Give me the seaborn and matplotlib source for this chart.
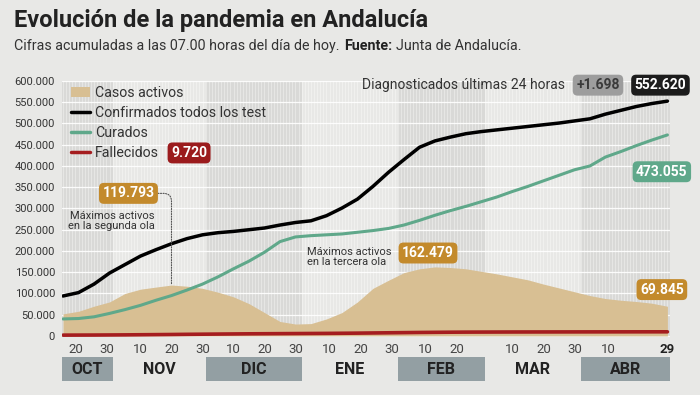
import matplotlib
matplotlib.use("Agg")
import matplotlib.pyplot as plt
import matplotlib.dates as mdates
import matplotlib.transforms as mtransforms
from matplotlib.patches import Patch, Rectangle
from matplotlib.lines import Line2D
from matplotlib.ticker import FuncFormatter
import seaborn as sns
import numpy as np
import pandas as pd

# datos, cada 5 dias desde el 16 de octubre
fechas = pd.date_range("2020-10-16", "2021-04-29", freq="5D")
confirmados = [94000, 102000, 122000, 148000, 168000, 188000, 203000, 217000,
               229000, 238000, 243000, 246000, 250000, 254000, 261000, 267000,
               271000, 283000, 301000, 322000, 352000, 385000, 415000, 444000,
               459000, 468000, 476000, 481000, 485000, 489000, 493000, 497000,
               501000, 506000, 511000, 522000, 531000, 540000, 547000, 552620]
curados = [40000, 41000, 45000, 53000, 62000, 72000, 84000, 95000,
           108000, 122000, 139000, 158000, 176000, 197000, 222000, 233000,
           236000, 238000, 240000, 244000, 248000, 253000, 261000, 272000,
           284000, 295000, 305000, 316000, 327000, 340000, 352000, 365000,
           378000, 391000, 400000, 421000, 434000, 448000, 461000, 473055]
activos = [52000, 58000, 70000, 80000, 100000, 110000, 115000, 119793,
           117000, 112000, 103000, 92000, 76000, 55000, 34000, 28000,
           29000, 40000, 55000, 80000, 112000, 131000, 149000, 158000,
           162479, 161000, 158000, 152000, 146000, 139000, 132000, 122000,
           113000, 104000, 95000, 88000, 84000, 81000, 77000, 69845]
fallecidos = [1900, 2000, 2100, 2300, 2500, 2800, 3100, 3400,
              3800, 4100, 4400, 4700, 5000, 5200, 5400, 5600,
              5800, 6000, 6300, 6600, 7000, 7400, 7800, 8200,
              8500, 8800, 9000, 9100, 9200, 9300, 9350, 9400,
              9450, 9500, 9550, 9600, 9630, 9670, 9700, 9720]
nuevos_24h = 1698

meses = ["OCT", "NOV", "DIC", "ENE", "FEB", "MAR", "ABR"]
inicio_meses = ["2020-10-16", "2020-11-01", "2020-12-01", "2021-01-01",
                "2021-02-01", "2021-03-01", "2021-04-01", "2021-04-30"]
meses_con_caja = ["OCT", "DIC", "FEB", "ABR"]
dias_ticks = ["2020-10-20", "2020-10-30", "2020-11-10", "2020-11-20", "2020-11-30",
              "2020-12-10", "2020-12-20", "2020-12-30", "2021-01-10", "2021-01-20",
              "2021-01-30", "2021-02-10", "2021-02-20", "2021-03-10", "2021-03-20",
              "2021-03-30", "2021-04-10", "2021-04-29"]
etiquetas_ticks = ["20", "30", "10", "20", "30", "10", "20", "30", "10", "20",
                   "30", "10", "20", "10", "20", "30", "10", "29"]

BG = "#e8e8e6"
SHADE = "#d9d9d7"
TAN = "#d8bf93"
GREEN = "#5fa88a"
RED = "#a51d1f"
ORANGE = "#c38a2c"
BOX = "#939fa3"
TXT = "#333333"

sns.set_style("white")
plt.rcParams["font.family"] = ["Roboto", "DejaVu Sans"]


def miles(v):
    return f"{int(v):,}".replace(",", ".")


fig = plt.figure(figsize=(7, 3.95), dpi=100, facecolor=BG)
ax = fig.add_axes([62 / 700, 58 / 395, 608 / 700, 256 / 395])
ax.set_facecolor(BG)
for s in ax.spines.values():
    s.set_visible(False)

fin = "2021-04-29"
x0 = fechas[0] - pd.Timedelta(hours=8)
x1 = pd.Timestamp(fin) + pd.Timedelta(hours=20)
ax.set_xlim(x0, x1)
ax.set_ylim(-2500, 600000)

# fondo: meses alternos sombreados y lineas diarias
lims = [pd.Timestamp(d) for d in inicio_meses]
lims[0] = x0
lims[-1] = x1
for mes, a, b in zip(meses, lims[:-1], lims[1:]):
    if mes in meses_con_caja:
        ax.axvspan(a, b, color=SHADE, lw=0, zorder=0)
for d in pd.date_range(fechas[0], fin, freq="D"):
    ax.axvline(d, color="white", lw=0.5, alpha=0.5, zorder=0.5)
ax.set_yticks(np.arange(0, 600001, 50000))
ax.yaxis.grid(True, color="white", lw=0.9, alpha=0.9)
ax.set_axisbelow(True)

ax.fill_between(fechas, activos, color=TAN, lw=0, zorder=2)
sns.lineplot(x=fechas, y=curados, ax=ax, color=GREEN, lw=2.2, zorder=3)
sns.lineplot(x=fechas, y=confirmados, ax=ax, color="black", lw=2.5, zorder=3)
sns.lineplot(x=fechas, y=fallecidos, ax=ax, color=RED, lw=2.6, zorder=4)
ax.set_xlabel("")
ax.set_ylabel("")

ax.yaxis.set_major_formatter(FuncFormatter(lambda v, p: miles(v)))
ax.tick_params(axis="y", length=0, pad=5, labelsize=8, labelcolor=TXT)
ax.set_xticks([pd.Timestamp(d) for d in dias_ticks])
ax.set_xticklabels(etiquetas_ticks)
ax.tick_params(axis="x", length=0, pad=4, labelsize=9.5, labelcolor="#444444")
ax.get_xticklabels()[-1].set_fontweight("bold")
ax.get_xticklabels()[-1].set_color("#222222")

# fila de meses
trans = mtransforms.blended_transform_factory(ax.transData, ax.transAxes)
for mes, a, b in zip(meses, lims[:-1], lims[1:]):
    a_n, b_n = mdates.date2num(a), mdates.date2num(b)
    if mes in meses_con_caja:
        ax.add_patch(Rectangle((a_n, -0.172), b_n - a_n, 0.094, transform=trans,
                               color=BOX, lw=0, clip_on=False))
    ax.text((a_n + b_n) / 2, -0.125, mes, transform=trans, ha="center", va="center",
            fontsize=11.5, fontweight="bold", color="#222222")

# leyenda
handles = [Patch(fc=TAN, ec="none"),
           Line2D([], [], color="black", lw=2.5),
           Line2D([], [], color=GREEN, lw=2.5),
           Line2D([], [], color=RED, lw=2.5)]
labels = ["Casos activos", "Confirmados todos los test", "Curados", "Fallecidos"]
ax.legend(handles, labels, loc="upper left", bbox_to_anchor=(0.0, 1.015),
          frameon=False, fontsize=10.2, handlelength=1.35, handletextpad=0.4,
          labelspacing=0.43, borderaxespad=0.2, labelcolor=TXT)


def badge(texto, xy, off, fc, tc="white", **kw):
    return ax.annotate(texto, xy=xy, xytext=off, textcoords="offset points",
                       ha="center", va="center", fontsize=10, fontweight="bold",
                       color=tc, annotation_clip=False, zorder=6,
                       bbox=dict(boxstyle="round,pad=0.25,rounding_size=0.35",
                                 fc=fc, ec="none"), **kw)


ax.text(0.209, 0.719, miles(fallecidos[-1]), transform=ax.transAxes, ha="center",
        va="center", fontsize=10, fontweight="bold", color="white", zorder=6,
        bbox=dict(boxstyle="round,pad=0.25,rounding_size=0.35", fc="#9b1b1d", ec="none"))

fin_conf = (fechas[-1], confirmados[-1])
badge(miles(confirmados[-1]), fin_conf, (-5, 11.5), "#1c1c1c")
badge("+" + miles(nuevos_24h), fin_conf, (-50, 11.5), "#9d9d9d", tc="#3a3a3a")
ax.annotate("Diagnosticados últimas 24 horas", xy=fin_conf, xytext=(-74, 11.5),
            textcoords="offset points", ha="right", va="center", fontsize=10,
            color=TXT, annotation_clip=False)
badge(miles(curados[-1]), (fechas[-1], curados[-1]), (-4, -26.5), GREEN)
badge(miles(activos[-1]), (fechas[-1], activos[-1]), (-4, 12), ORANGE)

# maximos de las olas
i2 = int(np.argmax(activos[:20]))
i3 = 20 + int(np.argmax(activos[20:]))
pico2 = (fechas[i2], activos[i2])
pico3 = (fechas[i3], activos[i3])
badge(miles(activos[i2]), pico2, (-31, 66), ORANGE,
      arrowprops=dict(arrowstyle="-", ls=(0, (1, 1.3)), color="#555555", lw=0.8,
                      connectionstyle="angle,angleA=0,angleB=90,rad=8",
                      shrinkA=0, shrinkB=0))
ax.annotate("Máximos activos\nen la segunda ola", xy=pico2, xytext=(-12, 46),
            textcoords="offset points", ha="right", va="center", fontsize=8,
            linespacing=1.05, color=TXT, annotation_clip=False)
badge(miles(activos[i3]), pico3, (-5, 10), ORANGE)
ax.annotate("Máximos activos\nen la tercera ola", xy=pico3, xytext=(-92, 7),
            textcoords="offset points", ha="left", va="center", fontsize=8,
            linespacing=1.05, color=TXT, annotation_clip=False)

# titulo
fig.text(14 / 700, 1 - 20 / 395, "Evolución de la pandemia en Andalucía",
         fontsize=17, fontweight="bold", va="center", color="#222222")
t1 = fig.text(14 / 700, 1 - 46 / 395,
              "Cifras acumuladas a las 07.00 horas del día de hoy.",
              fontsize=10.3, va="center", color=TXT)
t2 = ax.annotate("Fuente:", xy=(1, 0.5), xycoords=t1, xytext=(3, 0),
                 textcoords="offset points", va="center", ha="left",
                 fontsize=10.3, fontweight="bold", color="#222222")
ax.annotate("Junta de Andalucía.", xy=(1, 0.5), xycoords=t2, xytext=(3, 0),
            textcoords="offset points", va="center", ha="left",
            fontsize=10.3, color=TXT)

fig.savefig("out.png", dpi=100, facecolor=BG)
